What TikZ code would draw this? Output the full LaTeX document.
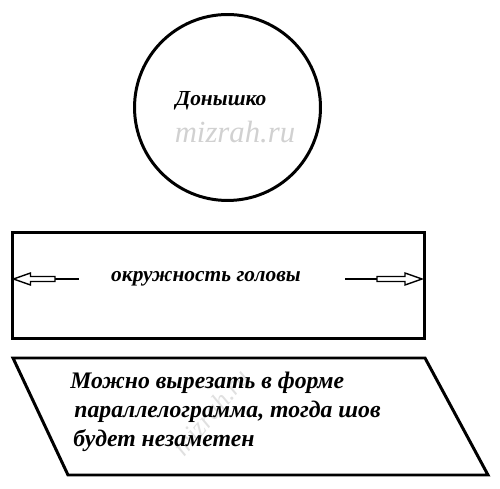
\documentclass[tikz,border=0pt]{standalone}
\usepackage{fontspec}
\setmainfont{Liberation Serif}
\usetikzlibrary{calc}
\tikzset{%
  outline/.style   = {draw, line width=1.7pt},%
  boldtext/.style  = {font=\bfseries\itshape\fontsize{12.2}{15}\selectfont, inner sep=0pt},%
  watermark/.style = {font=\itshape\fontsize{17.5}{18}\selectfont, text=black!18, inner sep=0pt},%
  thinline/.style  = {draw, line width=0.9pt},%
  hollow/.style    = {draw, line width=0.8pt, fill=white, line join=miter}%
}
% hollow block arrow: \blockarrow{tip}{base}{direction +1/-1}
\newcommand{\blockarrow}[3]{%
  \draw[hollow] ($(#1)$) -- ++(-#3*17,-6) -- ++(0,3.5) -- ($(#2)+(0,-2.5)$)
    -- ++(0,5) -- ($(#1)+(-#3*17,2.5)$) -- ++(0,3.5) -- cycle;}

\begin{document}
\begin{tikzpicture}[x=0.02cm,y=-0.02cm]
	\useasboundingbox (0,0) rectangle (500,489);
	% bottom of the hat
	\node [circle,outline,minimum size=3.72cm,inner sep=0pt] (bottom) at (227.5,107.5) {};
	\node [boldtext,font=\bfseries\itshape\fontsize{12.2}{14}\selectfont] (bottomtext) at (221,101) {Донышко};
	\node [watermark] (mark1) at (235,132) {mizrah.ru};
	% band
	\node [rectangle,outline,minimum width=8.26cm,minimum height=2.14cm,inner sep=0pt] (band) at (218.5,285.5) {};
	\node [boldtext] (bandtext) at (206,279) {окружность головы};
	\coordinate (ltip) at (13.5,279);
	\coordinate (lbase) at (55,279);
	\coordinate (lend) at (79,279);
	\coordinate (rtip) at (422,279);
	\coordinate (rbase) at (377,279);
	\coordinate (rend) at (345,279);
	\draw [thinline] (lbase) -- (lend);
	\draw [thinline] (rend) -- (rbase);
	\blockarrow{ltip}{lbase}{-1}
	\blockarrow{rtip}{rbase}{1}
	% parallelogram
	\coordinate (p1) at (13,358);
	\coordinate (p2) at (425,358);
	\coordinate (p3) at (488,475);
	\coordinate (p4) at (68,475);
	\draw [outline,line join=miter] (p1) -- (p2) -- (p3) -- (p4) -- cycle;
	\node [watermark,rotate=50,font=\itshape\fontsize{15}{16}\selectfont,text=black!12] (mark2) at (211,412) {mizrah.ru};
	\node [boldtext,font=\bfseries\itshape\fontsize{13.5}{16.4}\selectfont,align=left,anchor=north west] (note) at (70,372)
		{Можно вырезать в форме\\\hspace*{0.08cm}параллелограмма, тогда шов\\\hspace*{0.06cm}будет незаметен};
\end{tikzpicture}
\end{document}
